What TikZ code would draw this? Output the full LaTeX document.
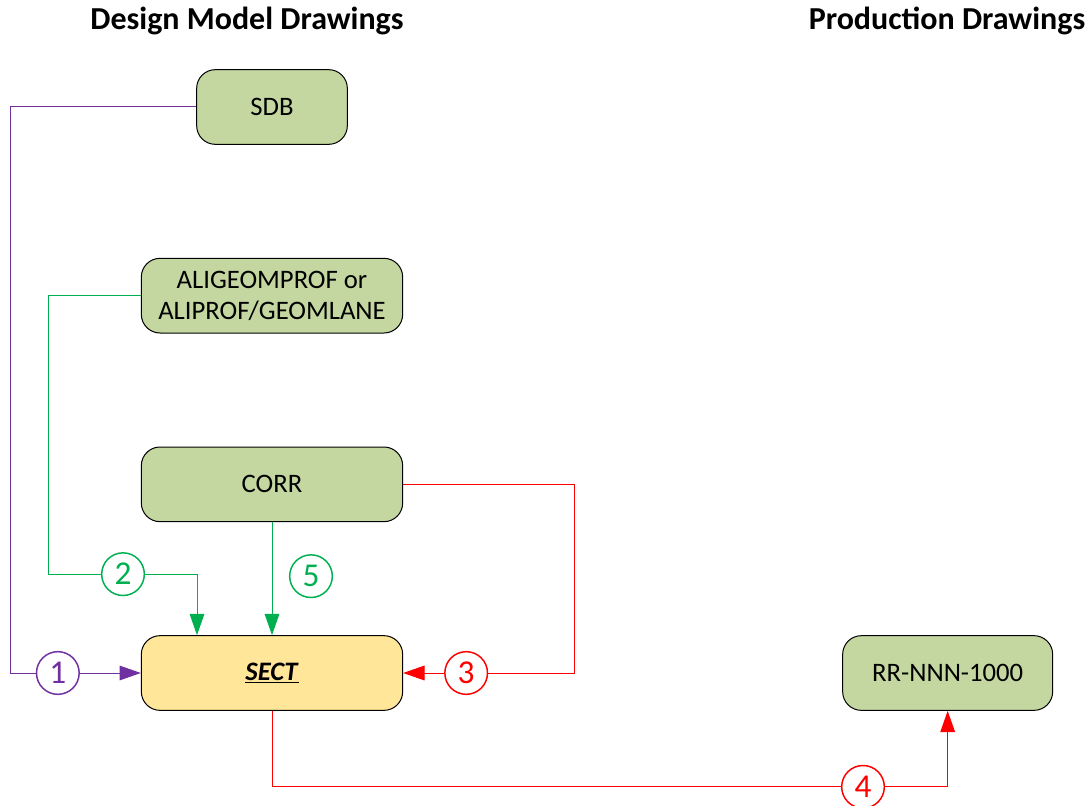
\documentclass[tikz,border=0pt]{standalone}
\usepackage{fontspec}
\setmainfont{Carlito}
\usetikzlibrary{arrows.meta,calc,positioning}
\definecolor{modelColor}{RGB}{196,215,160}
\definecolor{sectColor}{RGB}{255,230,153}
\definecolor{purpleLine}{RGB}{112,48,160}
\definecolor{greenLine}{RGB}{0,176,80}
\definecolor{redLine}{RGB}{255,0,0}
\tikzset{drawing/.append style={fill=modelColor, align=center, draw, line width=0.75pt, minimum width=196pt, minimum height=56pt, rounded corners=14pt, font=\fontsize{20}{23.5}\selectfont}}
\tikzset{sectdrawing/.style={drawing, fill=sectColor}}
\tikzset{stepnum/.style={circle, draw, fill=white, line width=1.1pt, minimum size=32pt, inner sep=0pt, font=\fontsize{25}{25}\selectfont}}
\tikzset{heading/.style={font=\fontsize{24}{24}\selectfont\bfseries}}
\tikzstyle{arrow} = [-{Triangle[length=16pt, width=11pt]}]

\begin{document}
\begin{tikzpicture}[x=0.75pt, y=-0.75pt, node distance=84.75pt and 329.25pt]
	\useasboundingbox (0,0) rectangle (1088,806);
	% Nodes
		\node (modeltitle) [heading] at (247,21) {Design Model Drawings};
		\node (prodtitle) [heading] at (947,21) {Production Drawings};

		\node (sdb) [drawing, minimum width=113pt] at (272,107) {SDB};
		\node (aligeom) [drawing, below=of sdb] {ALIGEOMPROF or\\ ALIPROF/GEOMLANE};
		\node (corr) [drawing, below=of aligeom] {CORR};
		\node (sect) [sectdrawing, below=of corr] {\underline{\textbf{\textit{SECT}}}};
		\node (rr) [drawing, minimum width=157.5pt, right=of sect] {RR-NNN-1000};

		\node (n1) [stepnum, draw=purpleLine, text=purpleLine] at ($(sect.west)+(-83,0)$) {1};
		\node (n2) [stepnum, draw=greenLine, text=greenLine] at ($(sect.north)+(-149,-61)$) {2};
		\node (n5) [stepnum, draw=greenLine, text=greenLine] at ($(sect.north)+(39,-59)$) {5};
		\node (n3) [stepnum, draw=redLine, text=redLine] at ($(sect.east)+(63,0)$) {3};
		\node (n4) [stepnum, draw=redLine, text=redLine] at ($(sect.south)+(591,76)$) {4};

		% Connectors
		\begin{scope}[line width=0.75pt]
			\draw [purpleLine] (sdb.west) -- ++(-186,0) |- (n1.west);
			\draw [purpleLine, arrow] (n1.east) -- (sect.west);
			\draw [greenLine] (aligeom.west) -- ++(-92,0) |- (n2.west);
			\draw [greenLine, arrow] (n2.east) -| ($(sect.north)+(-75,0)$);
			\draw [greenLine, arrow] (corr.south) -- (sect.north);
			\draw [redLine] (corr.east) -- ++(171,0) |- (n3.east);
			\draw [redLine, arrow] (n3.west) -- (sect.east);
			\draw [redLine] (sect.south) |- (n4.west);
			\draw [redLine, arrow] (n4.east) -| (rr.south);
		\end{scope}
\end{tikzpicture}
\end{document}
